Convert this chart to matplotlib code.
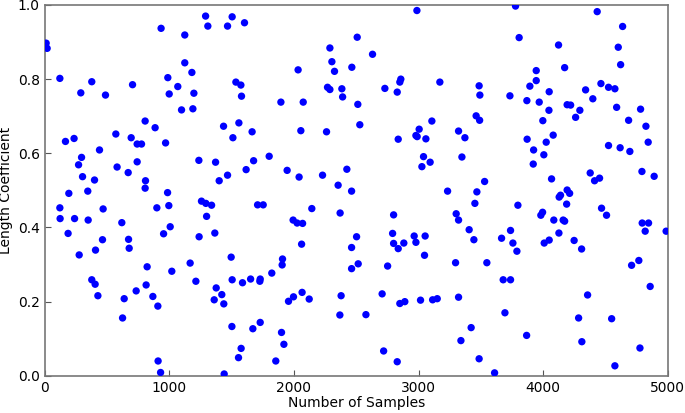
import matplotlib
matplotlib.use("Agg")
import matplotlib.pyplot as plt
import numpy as np

# number of samples (x) and length coefficient (y)
samples = [
    13, 21, 6, 123, 379, 291, 489, 706, 807, 168, 237, 572, 695, 743, 778, 441,
    297, 273, 743, 582, 671, 305, 401, 810, 195, 347, 807,
    123, 125, 241, 350, 470, 620, 189, 465, 674, 409, 679, 278, 823, 379, 406,
    815, 735, 428, 639, 626,
    1292, 1505, 935, 1125, 1310, 1468, 1604, 1125, 1182, 989, 1069, 1000, 1198,
    1535, 1575, 1580, 1099, 1190, 887, 971, 1436, 1559, 1665, 1511, 1238, 1372,
    1677, 1617, 1468, 1401, 987,
    901, 997, 1259, 1294, 1340, 1300, 1008, 955, 1240, 1366, 1497, 1021, 1168,
    1214, 1505, 1588, 1653, 1377, 1422, 1361, 1438, 869, 909, 1503, 1671, 1577,
    1556, 911, 931, 1441,
    2508, 2289, 2305, 2326, 2034, 2465, 2270, 2289, 2385, 2391, 1896, 2075, 2513,
    2056, 2262, 2529, 1802, 1946, 2042, 2230, 2425, 2355, 2463,
    1709, 1754, 2144, 2371, 1994, 2026, 2070, 2062, 2503, 2463, 1909, 1906, 1823,
    1730, 1727, 2463, 2516, 2066, 1997, 1957, 2123, 2379, 2369, 1730, 1901, 1920,
    1855,
    2987, 2631, 2858, 2850, 2730, 2829, 3171, 3107, 3005, 2979, 2989, 3059, 2837,
    3321, 3372, 3040, 3093, 3027, 3348, 3233,
    2800, 3302, 3321, 2792, 2800, 2837, 2882, 2965, 2979, 3053, 3048, 3297, 2752,
    2708, 2850, 2890, 3016, 3113, 3150, 3321, 2578, 3340, 2720, 2829,
    3778, 3807, 4123, 4172, 3944, 3944, 3893, 3486, 3492, 3733, 4048, 3869, 3968,
    4192, 4046, 3462, 3490, 3997, 3871, 4080, 4024, 3923, 4005, 3920, 3530, 4067,
    3468, 4139, 4192,
    3452, 3797, 4188, 3406, 3444, 3666, 3738, 3757, 3789, 3548, 3679, 3738, 3693,
    3422, 3867, 3486, 3610, 4128, 3981, 3995, 4085, 4160, 4172, 4126, 4008, 4048,
    4433, 4637, 4602, 4621, 4463, 4524, 4575, 4340, 4398, 4220, 4294, 4260, 4589,
    4781, 4685, 4824, 4842, 4524, 4617, 4695, 4377, 4452, 4412, 4792, 4890, 4212,
    4468, 4508, 4794, 4845, 4818, 4986, 4248, 4308, 4709, 4767, 4858, 4356, 4284,
    4549, 4310, 4776, 4575,
]
length_coef = [
    0.897, 0.883, 0.892, 0.802, 0.793, 0.763, 0.757, 0.785, 0.687, 0.632, 0.640,
    0.652, 0.642, 0.625, 0.625, 0.609, 0.589, 0.569, 0.577, 0.563, 0.548, 0.537,
    0.528, 0.526, 0.492, 0.498, 0.506,
    0.453, 0.424, 0.424, 0.420, 0.450, 0.413, 0.384, 0.367, 0.368, 0.339, 0.344,
    0.326, 0.294, 0.259, 0.247, 0.245, 0.229, 0.216, 0.208, 0.156,
    0.970, 0.968, 0.937, 0.919, 0.943, 0.943, 0.952, 0.844, 0.818, 0.804, 0.780,
    0.760, 0.762, 0.792, 0.784, 0.754, 0.717, 0.720, 0.669, 0.628, 0.673, 0.682,
    0.658, 0.642, 0.581, 0.576, 0.580, 0.556, 0.541, 0.526, 0.494,
    0.453, 0.459, 0.471, 0.465, 0.460, 0.430, 0.402, 0.383, 0.375, 0.385, 0.320,
    0.282, 0.304, 0.255, 0.259, 0.251, 0.261, 0.237, 0.219, 0.205, 0.194, 0.214,
    0.188, 0.133, 0.127, 0.074, 0.049, 0.040, 0.009, 0.005,
    0.913, 0.884, 0.847, 0.821, 0.825, 0.832, 0.778, 0.772, 0.774, 0.752, 0.738,
    0.738, 0.732, 0.661, 0.658, 0.677, 0.592, 0.554, 0.536, 0.541, 0.557, 0.514,
    0.498,
    0.461, 0.461, 0.451, 0.439, 0.420, 0.412, 0.411, 0.355, 0.375, 0.346, 0.315,
    0.299, 0.277, 0.261, 0.255, 0.289, 0.302, 0.225, 0.213, 0.201, 0.207, 0.216,
    0.164, 0.144, 0.117, 0.085, 0.040,
    0.985, 0.867, 0.800, 0.792, 0.775, 0.765, 0.792, 0.687, 0.665, 0.648, 0.645,
    0.639, 0.638, 0.660, 0.642, 0.591, 0.576, 0.564, 0.590, 0.498,
    0.434, 0.437, 0.420, 0.384, 0.357, 0.343, 0.358, 0.377, 0.360, 0.377, 0.325,
    0.305, 0.296, 0.221, 0.195, 0.200, 0.204, 0.205, 0.208, 0.212, 0.165, 0.095,
    0.067, 0.038,
    0.997, 0.912, 0.892, 0.831, 0.823, 0.796, 0.781, 0.782, 0.757, 0.755, 0.766,
    0.742, 0.738, 0.731, 0.716, 0.701, 0.689, 0.688, 0.638, 0.649, 0.630, 0.609,
    0.596, 0.571, 0.524, 0.531, 0.496, 0.487, 0.501,
    0.465, 0.460, 0.463, 0.394, 0.367, 0.371, 0.392, 0.358, 0.336, 0.305, 0.259,
    0.259, 0.170, 0.130, 0.109, 0.046, 0.008, 0.482, 0.433, 0.441, 0.420, 0.420,
    0.417, 0.385, 0.358, 0.366,
    0.982, 0.942, 0.886, 0.839, 0.788, 0.778, 0.774, 0.771, 0.747, 0.730, 0.716,
    0.697, 0.724, 0.719, 0.689, 0.673, 0.630, 0.621, 0.615, 0.605, 0.547, 0.533,
    0.526, 0.551, 0.538, 0.492,
    0.452, 0.433, 0.412, 0.412, 0.390, 0.390, 0.365, 0.342, 0.298, 0.311, 0.241,
    0.218, 0.156, 0.154, 0.092, 0.075, 0.027,
]

fig = plt.figure(figsize=(6.85, 4.13), dpi=100)
ax = fig.add_axes([0.065, 0.09, 0.91, 0.898])

ax.scatter(samples, length_coef, s=28, color="#0000ff", edgecolors="none", zorder=3)

ax.set_xlim(0, 5000)
ax.set_ylim(0, 1.0)
ax.set_xticks(np.arange(0, 5001, 1000))
ax.set_yticks(np.arange(0, 1.01, 0.2))
ax.set_xlabel("Number of Samples", fontsize=10, labelpad=1)
ax.set_ylabel("Length Coefficient", fontsize=10, labelpad=3)
ax.tick_params(direction="in", labelsize=10, length=4, color="#555555")
for sp in ax.spines.values():
    sp.set_color("#777777")
    sp.set_linewidth(1.2)

fig.savefig("out.png", dpi=100)
plt.close(fig)
